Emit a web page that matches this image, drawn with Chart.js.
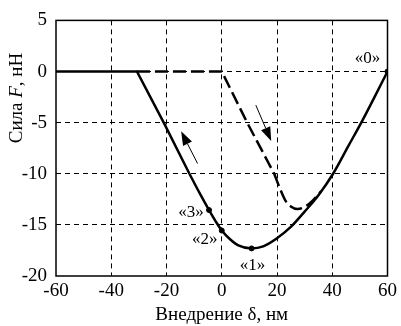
<!DOCTYPE html>
<html>
<head>
<meta charset="utf-8">
<script src="https://cdn.jsdelivr.net/npm/chart.js@4.4.1/dist/chart.umd.min.js"></script>
<style>
  html, body { margin: 0; padding: 0; background: #fff; }
  #wrap { width: 401px; height: 326px; }
</style>
</head>
<body>
<div id="wrap"><canvas id="chart"></canvas></div>
<script>
// Сплошная кривая: прямой участок и изогнутая часть
const solidLineX = [-60, -30.7, -21, -11.7];
const solidLineY = [0, 0, -5, -10];
const solidCurveX = [-11.7, -8, -4.6, -2.3, 0, 3, 6, 10.8, 15, 20, 25, 30, 35, 40.3, 45.8, 50.9, 55.3, 60];
const solidCurveY = [-10, -11.9, -13.55, -14.6, -15.55, -16.4, -17.0, -17.3, -17.1, -16.3, -15.2, -13.7, -12.1, -10, -7.3, -4.8, -2.5, 0];

// Пунктирная кривая: прямой участок и изогнутая часть
const dashLineX = [-30.7, 0, 9.2, 19];
const dashLineY = [0, 0, -5, -10];
const dashCurveX = [19, 21, 23, 25, 27.4, 30, 33, 36];
const dashCurveY = [-10, -11.4, -12.6, -13.2, -13.45, -13.25, -12.6, -11.7];

// Отмеченные точки «0»..«3»
const markLabels = ['«0»', '«1»', '«2»', '«3»'];
const markX = [60, 10.8, 0, -4.6];
const markY = [0, -17.3, -15.55, -13.55];

const xTicks = [-60, -40, -20, 0, 20, 40, 60];
const yTicks = [5, 0, -5, -10, -15, -20];

const FONT = "'Liberation Serif', 'Times New Roman', serif";

function pts(xs, ys) {
    return xs.map((x, i) => ({ x: x, y: ys[i] }));
}

function lineSet(xs, ys, dashed, curved) {
    return {
        data: pts(xs, ys),
        showLine: true,
        borderColor: '#000',
        borderWidth: 2.5,
        borderDash: dashed ? [13, 5] : [],
        pointRadius: 0,
        tension: 0,
        cubicInterpolationMode: curved ? 'monotone' : 'default'
    };
}

// Подписи точек, стрелки, рамка и подпись оси Y
const overlay = {
    id: 'overlay',
    afterDatasetsDraw(chart) {
        const ctx = chart.ctx;
        const xs = chart.scales.x, ys = chart.scales.y;
        const a = chart.chartArea;

        ctx.save();
        // рамка
        ctx.strokeStyle = '#000';
        ctx.lineWidth = 1.5;
        ctx.setLineDash([]);
        ctx.strokeRect(a.left, a.top, a.right - a.left, a.bottom - a.top);

        // подписи
        ctx.fillStyle = '#000';
        ctx.font = '17px ' + FONT;
        const offs = [[-20, -13], [1, 17], [-17, 9], [-18, 2]];
        markLabels.forEach((t, i) => {
            const px = xs.getPixelForValue(markX[i]) + offs[i][0];
            const py = ys.getPixelForValue(markY[i]) + offs[i][1];
            ctx.textAlign = 'center';
            ctx.textBaseline = 'middle';
            ctx.fillText(t, px, py);
        });

        // стрелки
        const arrows = [
            [-8.75, -9.0, -14.7, -5.85],
            [12.35, -3.3, 17.9, -6.8]
        ];
        arrows.forEach(ar => {
            const x1 = xs.getPixelForValue(ar[0]), y1 = ys.getPixelForValue(ar[1]);
            const x2 = xs.getPixelForValue(ar[2]), y2 = ys.getPixelForValue(ar[3]);
            const ang = Math.atan2(y2 - y1, x2 - x1);
            const c = Math.cos(ang), s = Math.sin(ang);
            const hl = 14, hw = 5;
            ctx.lineWidth = 1;
            ctx.beginPath();
            ctx.moveTo(x1, y1);
            ctx.lineTo(x2 - hl * c, y2 - hl * s);
            ctx.stroke();
            ctx.beginPath();
            ctx.moveTo(x2, y2);
            ctx.lineTo(x2 - hl * c + hw * s, y2 - hl * s - hw * c);
            ctx.lineTo(x2 - hl * c - hw * s, y2 - hl * s + hw * c);
            ctx.closePath();
            ctx.fill();
        });

        // подпись оси Y с курсивной F
        ctx.translate(17, 98);
        ctx.rotate(-Math.PI / 2);
        ctx.textBaseline = 'middle';
        ctx.textAlign = 'left';
        const parts = [['Сила ', '19px ' + FONT], ['F', 'italic 19px ' + FONT], [', нН', '19px ' + FONT]];
        let total = 0;
        parts.forEach(p => { ctx.font = p[1]; total += ctx.measureText(p[0]).width; });
        let cx = -total / 2;
        parts.forEach(p => {
            ctx.font = p[1];
            ctx.fillText(p[0], cx, 0);
            cx += ctx.measureText(p[0]).width;
        });
        ctx.restore();
    }
};

new Chart(document.getElementById('chart'), {
    type: 'scatter',
    data: {
        datasets: [
            lineSet(solidLineX, solidLineY, false, false),
            lineSet(solidCurveX, solidCurveY, false, true),
            lineSet(dashLineX, dashLineY, true, false),
            lineSet(dashCurveX, dashCurveY, true, true),
            {
                data: pts(markX, markY),
                showLine: false,
                pointRadius: 2.5,
                pointBackgroundColor: '#000',
                pointBorderColor: '#000'
            }
        ]
    },
    options: {
        responsive: true,
        maintainAspectRatio: false,
        animation: false,
        layout: { padding: { top: 13, right: 8, left: 0, bottom: 0 } },
        plugins: { legend: { display: false }, tooltip: { enabled: false } },
        scales: {
            x: {
                type: 'linear',
                min: -60, max: 60,
                afterBuildTicks: (s) => { s.ticks = xTicks.map(v => ({ value: v })); },
                afterFit: (s) => { s.height = 50; },
                border: { display: false, dash: [5, 4] },
                grid: {
                    color: (c) => (c.tick && (c.tick.value === -60 || c.tick.value === 60)) ? 'rgba(0,0,0,0)' : '#000',
                    lineWidth: 1,
                    drawTicks: false
                },
                ticks: {
                    color: '#000',
                    font: { family: FONT, size: 19 },
                    padding: 4,
                    maxRotation: 0
                },
                title: {
                    display: true,
                    text: 'Внедрение δ, нм',
                    color: '#000',
                    font: { family: FONT, size: 19 },
                    padding: { top: 0, bottom: 0 }
                }
            },
            y: {
                type: 'linear',
                min: -20, max: 5,
                afterBuildTicks: (s) => { s.ticks = yTicks.map(v => ({ value: v })); },
                afterFit: (s) => { s.width = 56; },
                border: { display: false, dash: [5, 4] },
                grid: {
                    color: (c) => (c.tick && (c.tick.value === -20 || c.tick.value === 5)) ? 'rgba(0,0,0,0)' : '#000',
                    lineWidth: 1,
                    drawTicks: false
                },
                ticks: {
                    color: '#000',
                    font: { family: FONT, size: 19 },
                    padding: 9
                }
            }
        }
    },
    plugins: [overlay]
});
</script>
</body>
</html>
